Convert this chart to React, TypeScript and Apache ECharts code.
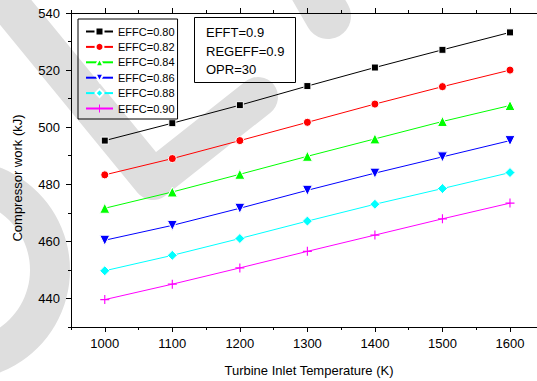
import React, { useEffect, useRef } from "react";
import * as echarts from "echarts";

const temps = [1000, 1100, 1200, 1300, 1400, 1500, 1600];
const effc080 = [495.3, 501.4, 507.7, 514.4, 520.9, 527.1, 533.2];
const effc082 = [483.3, 489.0, 495.3, 501.7, 508.1, 514.2, 520.0];
const effc084 = [471.6, 477.3, 483.5, 489.8, 495.9, 502.0, 507.6];
const effc086 = [460.4, 465.6, 471.6, 477.9, 483.9, 489.6, 495.3];
const effc088 = [449.7, 455.1, 461.0, 467.1, 473.0, 478.5, 484.1];
const effc090 = [439.6, 445.0, 450.7, 456.5, 462.2, 467.9, 473.4];
const seriesNames = ["EFFC=0.80", "EFFC=0.82", "EFFC=0.84", "EFFC=0.86", "EFFC=0.88", "EFFC=0.90"];

const xMajorTicks = [1000, 1100, 1200, 1300, 1400, 1500, 1600];
const xMinorTicks = [950, 1050, 1150, 1250, 1350, 1450, 1550];
const yMajorTicks = [440, 460, 480, 500, 520, 540];
const yMinorTicks = [430, 450, 470, 490, 510, 530];
const infoLines = ["EFFT=0.9", "REGEFF=0.9", "OPR=30"];
const xTitle = "Turbine Inlet Temperature (K)";
const yTitle = "Compressor work (kJ)";

const FONT = '"Liberation Sans", Arial, sans-serif';
const WM = "#dedede";

export default function App() {
  const ref = useRef<HTMLDivElement>(null);
  useEffect(() => {
    if (!ref.current) return;
    const chart = echarts.init(ref.current, null, { renderer: "svg" });
    const values = [effc080, effc082, effc084, effc086, effc088, effc090];
    const colors = ["#000000", "#ff0000", "#00ff00", "#0000ff", "#00ffff", "#ff00ff"];
    const symbols = [
      "rect",
      "circle",
      "triangle",
      "path://M0,0L10,0L5,9Z",
      "diamond",
      "path://M3.5,0H4.5V3.5H8V4.5H4.5V8H3.5V4.5H0V3.5H3.5Z",
    ];
    const sizes = [7, 8, 10, 10, 10, 9];
    const borders = [1, 1, 1, 1, 1, 0];

    const mkX = (pos: string, ticks: number[], len: number, line: boolean, labels: boolean) => ({
      type: "value",
      position: pos,
      min: 950,
      max: 1640,
      axisLine: { show: line, lineStyle: { color: "#000", width: 1 } },
      axisTick: { show: true, customValues: ticks, length: len, lineStyle: { color: "#000", width: 1 } },
      axisLabel: labels
        ? { show: true, customValues: ticks, formatter: (v: number) => String(v), fontSize: 13, color: "#000", fontFamily: FONT, margin: 10 }
        : { show: false },
      splitLine: { show: false },
    });
    const mkY = (ticks: number[], len: number, line: boolean, labels: boolean) => ({
      type: "value",
      position: "left",
      min: 430,
      max: 540,
      axisLine: { show: line, lineStyle: { color: "#000", width: 1 } },
      axisTick: { show: true, customValues: ticks, length: len, lineStyle: { color: "#000", width: 1 } },
      axisLabel: labels
        ? { show: true, customValues: ticks, formatter: (v: number) => String(v), fontSize: 13, color: "#000", fontFamily: FONT, margin: 11 }
        : { show: false },
      splitLine: { show: false },
    });

    chart.setOption({
      animation: false,
      backgroundColor: "#ffffff",
      grid: { left: 71, top: 13, right: 0, bottom: 54 },
      xAxis: [
        mkX("bottom", xMajorTicks, 5, true, true),
        mkX("bottom", xMinorTicks, 3, false, false),
        mkX("top", xMajorTicks, 5, true, false),
        mkX("top", xMinorTicks, 3, false, false),
      ],
      yAxis: [mkY(yMajorTicks, 5, true, true), mkY(yMinorTicks, 3, false, false)],
      legend: {
        orient: "vertical",
        left: 78,
        top: 19,
        borderColor: "#000",
        borderWidth: 1,
        borderRadius: 0,
        padding: [7, 3, 5, 7],
        itemWidth: 27,
        itemHeight: 10,
        itemGap: 4.4,
        textStyle: { fontSize: 11, color: "#000", fontFamily: FONT },
        data: seriesNames,
      },
      graphic: [
        { type: "polyline", z: -10, silent: true, shape: { points: [[-15, -25], [153, 180], [258, 97]] }, style: { stroke: WM, fill: null, lineWidth: 40, lineCap: "round", lineJoin: "round" } },
        { type: "polyline", z: -10, silent: true, shape: { points: [[290, -50], [328, 16]] }, style: { stroke: WM, fill: null, lineWidth: 46, lineCap: "round" } },
        { type: "ring", z: -10, silent: true, shape: { cx: -40, cy: 270, r: 110, r0: 70 }, style: { fill: WM } },
        { type: "rect", z: 5, shape: { x: 194.5, y: 17.5, width: 101, height: 65 }, style: { fill: null, stroke: "#000", lineWidth: 1 } },
        ...infoLines.map((t, i) => ({
          type: "text",
          z: 5,
          x: 206,
          y: 32.5 + i * 18.7,
          style: { text: t, fontSize: 13, fill: "#000", fontFamily: FONT, textVerticalAlign: "middle" },
        })),
        { type: "text", z: 5, x: 309, y: 370, style: { text: xTitle, fontSize: 13, fill: "#000", fontFamily: FONT, textAlign: "center", textVerticalAlign: "middle" } },
        { type: "text", z: 5, x: 17, y: 178, rotation: Math.PI / 2, style: { text: yTitle, fontSize: 13, fill: "#000", fontFamily: FONT, textAlign: "center", textVerticalAlign: "middle" } },
      ],
      series: values.map((vals, i) => ({
        name: seriesNames[i],
        type: "line",
        xAxisIndex: 0,
        yAxisIndex: 0,
        data: temps.map((t, j) => [t, vals[j]]),
        symbol: symbols[i],
        symbolSize: sizes[i],
        showAllSymbol: true,
        lineStyle: { color: colors[i], width: 1 },
        itemStyle: { color: colors[i], borderColor: "#ffffff", borderWidth: borders[i] },
        emphasis: { disabled: true },
      })),
    });
    return () => chart.dispose();
  }, []);
  return <div ref={ref} style={{ position: "absolute", left: 0, top: 0, width: 537, height: 381 }} />;
}
